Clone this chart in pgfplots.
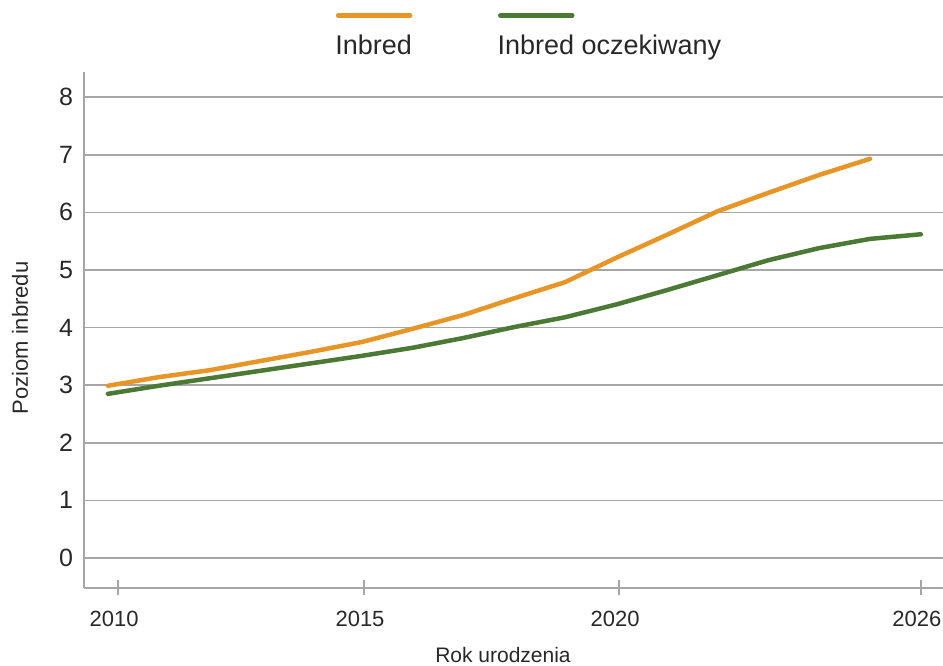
\documentclass[border=0pt]{standalone}
\usepackage{pgfplots}
\pgfplotsset{compat=1.18}
\usepackage{pgfplotstable}
\usepackage{fontspec}
\setmainfont{Liberation Sans}
\definecolor{inbredc}{RGB}{232,149,40}
\definecolor{expectc}{RGB}{76,122,52}
\definecolor{gridg}{RGB}{166,166,166}
\definecolor{txt}{RGB}{40,40,40}

\pgfplotstableread{
year val
2010 2.99
2011 3.14
2012 3.26
2013 3.42
2014 3.58
2015 3.75
2016 3.98
2017 4.22
2018 4.51
2019 4.79
2020 5.21
2021 5.61
2022 6.02
2023 6.34
2024 6.65
2025 6.93
}\inbredtab

\pgfplotstableread{
year val
2010 2.85
2011 2.99
2012 3.12
2013 3.25
2014 3.38
2015 3.51
2016 3.65
2017 3.82
2018 4.01
2019 4.18
2020 4.40
2021 4.65
2022 4.91
2023 5.17
2024 5.38
2025 5.54
2026 5.62
}\expecttab

\begin{document}
\begin{tikzpicture}
\path[use as bounding box] (-84pt,-78pt) rectangle (859pt,588pt);
\begin{axis}[
  scale only axis, width=859pt, height=516pt,
  at={(0,0)}, anchor=south west,
  xmin=2009.528, xmax=2026.437, ymin=-0.5208, ymax=8.4375,
  axis x line=bottom, axis y line=left,
  axis line style={gridg, line width=1.5pt, -},
  tick align=center, major tick length=15pt,
  xtick={2010.2,2015.04,2020.06,2026},
  xticklabels={2010,2015,2020,2026},
  ytick={0,1,2,3,4,5,6,7,8},
  ymajorgrids, grid style={gridg, line width=1.5pt},
  x tick style={gridg, line width=1.5pt},
  y tick style={draw=none},
  /pgf/number format/assume math mode=true,
  xticklabel style={font=\fontsize{22}{26}\selectfont, text=txt, xshift=-4pt, yshift=-12pt},
  yticklabel style={font=\fontsize{25}{30}\selectfont, text=txt},
  xlabel={Rok urodzenia},
  ylabel={Poziom inbredu},
  xlabel style={font=\fontsize{21}{25}\selectfont, text=txt, at={(axis description cs:0.4878,-0.1453)}, anchor=base},
  ylabel style={font=\fontsize{22}{26}\selectfont, text=txt, at={(axis description cs:-0.0745,0.4845)}, anchor=center},
  legend style={at={(axis description cs:0.2875,1.0727)}, anchor=north west,
    draw=none, fill=none, inner sep=0pt, outer sep=0pt,
    font=\fontsize{27}{32}\selectfont, text=txt,
    nodes={inner sep=0pt}, cells={anchor=base west},
    /tikz/every odd column/.style={column sep=0pt},
    /tikz/every even column/.style={column sep=81pt}},
  legend columns=2,
  legend image code/.code={\draw[overlay,#1,line width=4.5pt,line cap=round] (5pt,38.5pt) -- (77pt,38.5pt); \path (0pt,0pt);},
]
\addplot[inbredc, line width=4.5pt, line cap=round, line join=round] table[x=year,y=val] {\inbredtab};
\addlegendentry{Inbred}
\addplot[expectc, line width=4.5pt, line cap=round, line join=round] table[x=year,y=val] {\expecttab};
\addlegendentry{Inbred oczekiwany}
\end{axis}
\end{tikzpicture}
\end{document}
